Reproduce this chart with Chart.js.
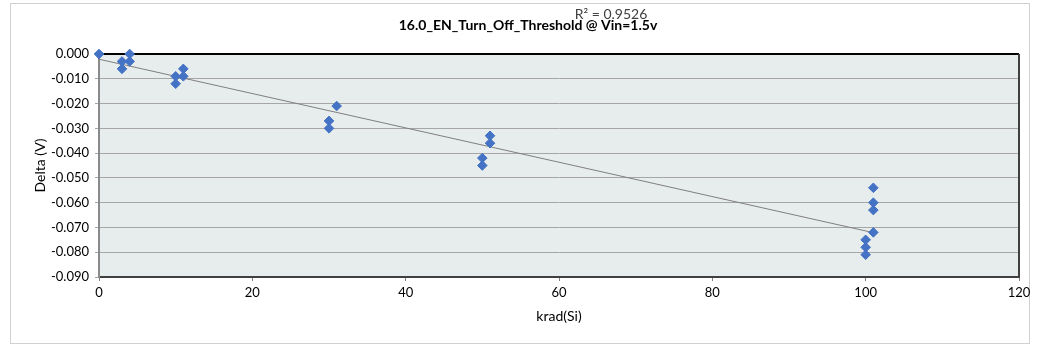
<!DOCTYPE html>
<html>
<head>
<meta charset="utf-8">
<script src="https://cdn.jsdelivr.net/npm/chart.js@4/dist/chart.umd.min.js"></script>
<style>
  html, body { margin: 0; padding: 0; background: #fff; }
  #wrap { width: 1038px; height: 347px; }
</style>
</head>
<body>
<div id="wrap"><canvas id="chart" width="1038" height="347"></canvas></div>
<script>
// dose (krad) and measured delta (V)
const doseKrad = [0, 3, 3, 4, 4, 10, 10, 11, 11, 30, 30, 31, 50, 50, 51, 51, 100, 100, 100, 101, 101, 101, 101];
const deltaV = [0.000, -0.003, -0.006, 0.000, -0.003, -0.009, -0.012, -0.006, -0.009,
  -0.027, -0.030, -0.021, -0.042, -0.045, -0.033, -0.036,
  -0.075, -0.078, -0.081, -0.054, -0.060, -0.063, -0.072];

// linear trendline end points
const trendX = [0, 101];
const trendY = [-0.0021, -0.0721];

const chartTitle = "16.0_EN_Turn_Off_Threshold @ Vin=1.5v";
const r2Label = "R\u00b2 = 0.9526";

const FONT = "Lato, 'Open Sans', sans-serif";

const frame = {
  id: "frame",
  beforeDraw(chart) {
    const { ctx, chartArea: a } = chart;
    ctx.save();
    ctx.fillStyle = "#e7ecec";
    ctx.fillRect(a.left, a.top, a.right - a.left, a.bottom - a.top);
    ctx.strokeStyle = "#d0d0d0";
    ctx.lineWidth = 1;
    ctx.strokeRect(10.5, 3.5, 1019, 340);
    ctx.restore();
  },
  afterDraw(chart) {
    const { ctx, chartArea: a } = chart;
    ctx.save();
    ctx.strokeStyle = "#404040";
    ctx.lineWidth = 2;
    ctx.beginPath();
    ctx.moveTo(a.right, a.top);
    ctx.lineTo(a.right, a.bottom);
    ctx.stroke();
    ctx.fillStyle = "#000";
    ctx.textAlign = "center";
    ctx.textBaseline = "middle";
    ctx.font = "bold 14px " + FONT;
    ctx.fillText(chartTitle, 528, 25);
    ctx.font = "14px " + FONT;
    ctx.fillStyle = "#404040";
    ctx.fillText(r2Label, 611, 14);
    ctx.restore();
  }
};

const scatterPts = doseKrad.map((x, i) => ({ x, y: deltaV[i] }));
const trendPts = trendX.map((x, i) => ({ x, y: trendY[i] }));

new Chart(document.getElementById("chart").getContext("2d"), {
  type: "scatter",
  data: {
    datasets: [
      {
        label: "trend",
        data: trendPts,
        showLine: true,
        borderColor: "#7f7f7f",
        borderWidth: 1,
        pointRadius: 0,
        order: 2
      },
      {
        label: "Delta",
        data: scatterPts,
        pointStyle: "rectRot",
        pointRadius: 4.8,
        backgroundColor: "#4472c4",
        borderColor: "#4472c4",
        borderWidth: 1,
        clip: false,
        order: 1
      }
    ]
  },
  options: {
    responsive: false,
    animation: false,
    events: [],
    layout: { padding: { left: 10, top: 54, right: 19, bottom: 4 } },
    plugins: {
      legend: { display: false },
      tooltip: { enabled: false }
    },
    scales: {
      x: {
        type: "linear",
        min: 0,
        max: 120,
        afterFit: s => { s.height = 66; },
        ticks: {
          stepSize: 20,
          color: "#000",
          padding: 4,
          font: { family: FONT, size: 13 }
        },
        grid: {
          drawOnChartArea: false,
          drawTicks: true,
          tickLength: 4,
          color: "#808080"
        },
        border: { color: "#404040", width: 2 },
        title: {
          display: true,
          text: "krad(Si)",
          color: "#000",
          font: { family: FONT, size: 14 },
          padding: { top: 0, bottom: 18 }
        }
      },
      y: {
        type: "linear",
        min: -0.09,
        max: 0,
        afterFit: s => { s.width = 89; },
        ticks: {
          stepSize: 0.01,
          color: "#000",
          padding: 6,
          font: { family: FONT, size: 13 },
          callback: v => v.toFixed(3)
        },
        grid: {
          color: c => (c.tick && Math.abs(c.tick.value) < 1e-9) ? "#000" : "#a6a6a6",
          lineWidth: c => (c.tick && Math.abs(c.tick.value) < 1e-9) ? 2 : 1,
          tickLength: 4
        },
        border: { color: "#8a8a8a", width: 2 },
        title: {
          display: true,
          text: "Delta (V)",
          color: "#000",
          font: { family: FONT, size: 14 },
          padding: { top: 22, bottom: 0 }
        }
      }
    }
  },
  plugins: [frame]
});
</script>
</body>
</html>
